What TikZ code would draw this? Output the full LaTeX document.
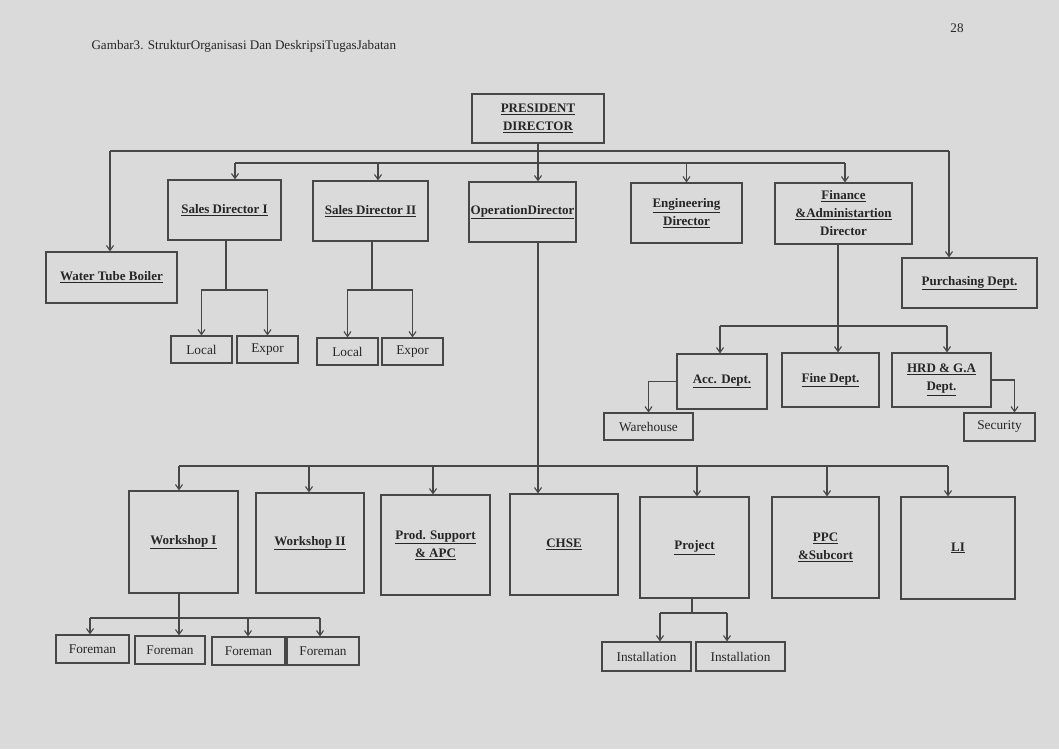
\documentclass[tikz,border=0pt]{standalone}
\usepackage{fontspec}
\setmainfont{Liberation Serif}
\usetikzlibrary{arrows.meta}
\definecolor{Paper}{HTML}{DADADA}
\definecolor{LineGray}{HTML}{474747}
\definecolor{Ink}{HTML}{262626}

\begin{document}
\begin{tikzpicture}[
	x=1pt, y=-1pt, % one unit is one pixel of the page, y runs downwards
	% Style for the boxes with bold, underlined titles
	unit/.style={
		draw=LineGray,        % Box border color
		fill=Paper,           % Same grey as the page
		text=Ink,
		line width=1.1pt,
		align=center,
		inner sep=1pt,
		font=\fontsize{13}{18}\selectfont\bfseries
	},
	% Style for the small boxes with plain text
	sub unit/.style={
		unit,
		font=\fontsize{13.3}{15}\selectfont
	},
	% Width and height of a box
	boxsize/.style 2 args={minimum width=#1pt, minimum height=#2pt},
	% Style for the connecting lines
	edge/.style={
		draw=LineGray,
		line width=1.1pt
	},
	arrow/.style={
		edge,
		-{Straight Barb[length=5pt,width=7pt]}
	},
	caption/.style={
		text=Ink,
		font=\fontsize{13.1}{15}\selectfont
	}
	]
	
	% Page
	\fill[Paper] (0,0) rectangle (1059,749);
	\useasboundingbox (0,0) rectangle (1059,749);
	\node[caption, anchor=west] (title) at (88,46) {Gambar3. StrukturOrganisasi Dan DeskripsiTugasJabatan};
	\node[caption] (page) at (957,28) {28};
	
	% 1. Top level
	\node[unit, boxsize={132}{49}] (PD) at (538,118.5) {\underline{PRESIDENT}\\\underline{DIRECTOR}};
	
	\node[unit, boxsize={131}{51}] (WTB) at (111.5,277.5) {\underline{Water Tube Boiler}};
	\node[unit, boxsize={113}{60}] (SD1) at (224.5,210) {\underline{Sales Director I}};
	\node[unit, boxsize={115}{60}] (SD2) at (370.5,211) {\underline{Sales Director II}};
	\node[unit, boxsize={107}{60}] (OD) at (522.5,212) {\underline{OperationDirector}};
	\node[unit, boxsize={111}{60}] (ED) at (686.5,213) {\underline{Engineering}\\\underline{Director}};
	\node[unit, boxsize={137}{61}] (FAD) at (843.5,213.5) {\underline{Finance}\\\underline{\&Administartion}\\Director};
	\node[unit, boxsize={135}{50}] (PUR) at (969.5,283) {\underline{Purchasing Dept.}};
	
	% 2. Sales
	\node[sub unit, boxsize={61}{27}] (L1) at (201.5,349.5) {Local};
	\node[sub unit, boxsize={61}{27}] (E1) at (267.5,349.5) {Expor};
	\node[sub unit, boxsize={61}{27}] (L2) at (347.5,351.5) {Local};
	\node[sub unit, boxsize={61}{27}] (E2) at (412.5,351.5) {Expor};
	
	% 3. Finance & Administration
	\node[unit, boxsize={90}{55}] (ACC) at (722,381.5) {\underline{Acc. Dept.}};
	\node[unit, boxsize={97}{54}] (FIN) at (830.5,380) {\underline{Fine Dept.}};
	\node[unit, boxsize={99}{54}] (HRD) at (941.5,380) {\underline{HRD \& G.A}\\\underline{Dept.}};
	\node[sub unit, boxsize={89}{27}] (WH) at (648.5,426.5) {Warehouse};
	\node[sub unit, boxsize={71}{28}] (SEC) at (999.5,427) {Security};
	
	% 4. Operation
	\node[unit, boxsize={109}{102}] (WS1) at (183.5,542) {\underline{Workshop I}};
	\node[unit, boxsize={108}{100}] (WS2) at (310,543) {\underline{Workshop II}};
	\node[unit, boxsize={109}{100}] (PRS) at (435.5,545) {\underline{Prod. Support}\\\underline{\& APC}};
	\node[unit, boxsize={108}{101}] (CHSE) at (564,544.5) {\underline{CHSE}};
	\node[unit, boxsize={109}{101}] (PRJ) at (694.5,547.5) {\underline{Project}};
	\node[unit, boxsize={107}{101}] (PPC) at (825.5,547.5) {\underline{PPC}\\\underline{\&Subcort}};
	\node[unit, boxsize={114}{102}] (LI) at (958,548) {\underline{LI}};
	
	\node[sub unit, boxsize={73}{28}] (F1) at (92.5,649) {Foreman};
	\node[sub unit, boxsize={70}{28}] (F2) at (170,650) {Foreman};
	\node[sub unit, boxsize={73}{28}] (F3) at (248.5,651) {Foreman};
	\node[sub unit, boxsize={72}{28}] (F4) at (323,651) {Foreman};
	\node[sub unit, boxsize={89}{29}] (I1) at (646.5,656.5) {Installation};
	\node[sub unit, boxsize={89}{29}] (I2) at (740.5,656.5) {Installation};
	
	% 5. Lines from the President Director
	\coordinate (top-l) at (110,151);
	\coordinate (top-r) at (949,151);
	\coordinate (mid-l) at (235,163);
	\coordinate (mid-r) at (845,163);
	\coordinate (sd2-in) at (378,163);
	\draw[edge] (top-l) -- (top-r);
	\draw[edge] (mid-l) -- (mid-r);
	\draw[arrow] (top-l) -- (top-l |- WTB.north);
	\draw[arrow] (top-r) -- (top-r |- PUR.north);
	\draw[arrow] (mid-l) -- (mid-l |- SD1.north);
	\draw[arrow] (sd2-in) -- (sd2-in |- SD2.north);
	\draw[arrow] (ED.north |- mid-l) -- (ED.north);
	\draw[arrow] (mid-r) -- (mid-r |- FAD.north);
	\draw[arrow] (PD.south) -- (PD.south |- OD.north);
	
	% 6. Sales directors
	\coordinate (sd1-j) at (226,290);
	\coordinate (sd2-j) at (372,290);
	\draw[edge] (sd1-j |- SD1.south) -- (sd1-j);
	\draw[arrow] (sd1-j) -| (L1.north);
	\draw[arrow] (sd1-j) -| (E1.north);
	\draw[edge] (sd2-j |- SD2.south) -- (sd2-j);
	\draw[arrow] (sd2-j) -| (L2.north);
	\draw[arrow] (sd2-j) -| (E2.north);
	
	% 7. Finance & Administration
	\coordinate (fin-l) at (720,326);
	\coordinate (fin-r) at (947,326);
	\coordinate (fin-in) at (838,326);
	\draw[edge] (fin-l) -- (fin-r);
	\draw[arrow] (fin-in |- FAD.south) -- (fin-in |- FIN.north);
	\draw[arrow] (fin-l) -- (fin-l |- ACC.north);
	\draw[arrow] (fin-r) -- (fin-r |- HRD.north);
	\draw[arrow] (ACC.west) -| (WH.north);
	\draw[arrow] (HRD.east) -| ([xshift=15pt]SEC.north);
	
	% 8. Operation Director
	\coordinate (low-l) at (179,466);
	\coordinate (low-r) at (948,466);
	\draw[edge] (low-l) -- (low-r);
	\draw[arrow] (PD.south |- OD.south) -- (PD.south |- CHSE.north);
	\foreach \n/\x in {WS1/179, WS2/309, PRS/433, PRJ/697, PPC/827, LI/948} {
		\coordinate (\n-in) at (\x,466);
		\draw[arrow] (\n-in) -- (\n-in |- \n.north);
	}
	
	% 9. Workshop I and Project
	\coordinate (ws-j) at (179,618);
	\coordinate (fm-l) at (90,618);
	\coordinate (fm-r) at (320,618);
	\draw[edge] (ws-j |- WS1.south) -- (ws-j);
	\draw[edge] (fm-l) -- (fm-r);
	\foreach \n/\x in {F1/90, F2/179, F3/248, F4/320} {
		\coordinate (\n-in) at (\x,618);
		\draw[arrow] (\n-in) -- (\n-in |- \n.north);
	}
	
	\coordinate (prj-j) at (692,613);
	\coordinate (in-l) at (660,613);
	\coordinate (in-r) at (727,613);
	\draw[edge] (prj-j |- PRJ.south) -- (prj-j);
	\draw[edge] (in-l) -- (in-r);
	\draw[arrow] (in-l) -- (in-l |- I1.north);
	\draw[arrow] (in-r) -- (in-r |- I2.north);
	
\end{tikzpicture}
\end{document}
